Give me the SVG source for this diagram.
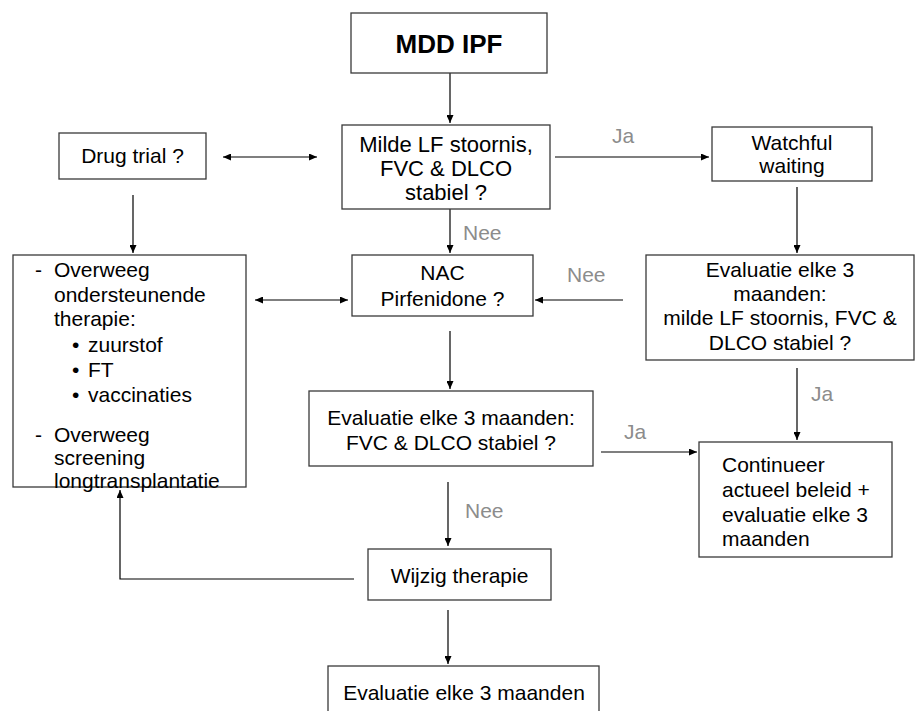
<svg xmlns="http://www.w3.org/2000/svg" width="919" height="711" viewBox="0 0 919 711">
<defs>
<marker id="ah" markerUnits="userSpaceOnUse" markerWidth="9" markerHeight="7" refX="8" refY="3.5" orient="auto-start-reverse">
<path d="M0,0 L8,3.5 L0,7 z" fill="#000"/>
</marker>
<style>
.box{fill:#fff;stroke:#3a3a3a;stroke-width:1.3}
.t{font-family:"Liberation Sans",Arial,sans-serif;font-size:21px;fill:#000}
.c{text-anchor:middle}
.lbl{font-family:"Liberation Sans",Arial,sans-serif;font-size:21px;fill:#8c8c8c}
.ln{fill:none;stroke:#000;stroke-width:1.2}
</style>
</defs>
<rect width="919" height="711" fill="#fff"/>

<g id="connectors">
<line class="ln" x1="450" y1="73" x2="450" y2="123" marker-end="url(#ah)"/>
<line class="ln" x1="223" y1="157" x2="317" y2="157" marker-start="url(#ah)" marker-end="url(#ah)"/>
<line class="ln" x1="555" y1="157" x2="709" y2="157" stroke="#555" marker-end="url(#ah)"/>
<line class="ln" x1="450" y1="209" x2="450" y2="253" marker-end="url(#ah)"/>
<line class="ln" x1="133" y1="195" x2="133" y2="253" marker-end="url(#ah)"/>
<line class="ln" x1="255" y1="300" x2="348" y2="300" marker-start="url(#ah)" marker-end="url(#ah)"/>
<line class="ln" x1="797" y1="187" x2="797" y2="253" marker-end="url(#ah)"/>
<line class="ln" x1="623" y1="300" x2="535" y2="300" marker-end="url(#ah)"/>
<line class="ln" x1="450" y1="331" x2="450" y2="389" marker-end="url(#ah)"/>
<line class="ln" x1="601" y1="452" x2="697" y2="452" marker-end="url(#ah)"/>
<line class="ln" x1="797" y1="368" x2="797" y2="440" marker-end="url(#ah)"/>
<line class="ln" x1="448" y1="482" x2="448" y2="546" marker-end="url(#ah)"/>
<polyline class="ln" points="354,579 120,579 120,490" marker-end="url(#ah)"/>
<line class="ln" x1="448" y1="610" x2="448" y2="664" marker-end="url(#ah)"/>
<text class="lbl" x="612" y="143">Ja</text>
<text class="lbl" x="463" y="240">Nee</text>
<text class="lbl" x="567" y="282">Nee</text>
<text class="lbl" x="811" y="401">Ja</text>
<text class="lbl" x="624" y="439">Ja</text>
<text class="lbl" x="465" y="518">Nee</text>
</g>

<g id="mdd">
<rect class="box" x="351" y="13" width="196" height="60"/>
<text class="t c" x="449" y="53" style="font-weight:bold;font-size:26px">MDD IPF</text>
</g>

<g id="milde">
<rect class="box" x="342" y="125" width="208" height="84"/>
<text class="t c" x="446" y="152" style="font-size:22px">Milde LF stoornis,</text>
<text class="t c" x="446" y="176" style="font-size:22px">FVC &amp; DLCO</text>
<text class="t c" x="446" y="200" style="font-size:22px">stabiel ?</text>
</g>

<g id="drugtrial">
<rect class="box" x="59" y="133" width="147" height="46"/>
<text class="t c" x="132.5" y="163">Drug trial ?</text>
</g>

<g id="watchful">
<rect class="box" x="712" y="127" width="160" height="54"/>
<text class="t c" x="792" y="150">Watchful</text>
<text class="t c" x="792" y="173">waiting</text>
</g>

<g id="ondersteunend">
<rect class="box" x="13" y="255" width="233" height="232"/>
<text class="t" x="35" y="277">-</text>
<text class="t" x="54" y="277">Overweeg</text>
<text class="t" x="54" y="302">ondersteunende</text>
<text class="t" x="54" y="326">therapie:</text>
<text class="t" x="72" y="352">•</text>
<text class="t" x="88" y="352">zuurstof</text>
<text class="t" x="72" y="377">•</text>
<text class="t" x="88" y="377">FT</text>
<text class="t" x="72" y="402">•</text>
<text class="t" x="88" y="402">vaccinaties</text>
<text class="t" x="35" y="442">-</text>
<text class="t" x="54" y="442">Overweeg</text>
<text class="t" x="54" y="465">screening</text>
<text class="t" x="54" y="488">longtransplantatie</text>
</g>

<g id="nac">
<rect class="box" x="352" y="255" width="181" height="61"/>
<text class="t c" x="442.5" y="280">NAC</text>
<text class="t c" x="442.5" y="306">Pirfenidone ?</text>
</g>

<g id="evalright">
<rect class="box" x="646" y="255" width="268" height="105"/>
<text class="t c" x="780" y="277">Evaluatie elke 3</text>
<text class="t c" x="780" y="301">maanden:</text>
<text class="t c" x="780" y="325">milde LF stoornis, FVC &amp;</text>
<text class="t c" x="780" y="350">DLCO stabiel ?</text>
</g>

<g id="evalmid">
<rect class="box" x="309" y="391" width="284" height="75"/>
<text class="t c" x="451" y="425">Evaluatie elke 3 maanden:</text>
<text class="t c" x="451" y="450">FVC &amp; DLCO stabiel ?</text>
</g>

<g id="continueer">
<rect class="box" x="699" y="442" width="193" height="115"/>
<text class="t" x="722" y="472">Continueer</text>
<text class="t" x="722" y="497">actueel beleid +</text>
<text class="t" x="722" y="522">evaluatie elke 3</text>
<text class="t" x="722" y="546">maanden</text>
</g>

<g id="wijzig">
<rect class="box" x="368" y="549" width="183" height="51"/>
<text class="t c" x="459.5" y="583">Wijzig therapie</text>
</g>

<g id="evalbottom">
<rect class="box" x="328" y="666" width="271" height="60"/>
<text class="t c" x="464" y="700">Evaluatie elke 3 maanden</text>
</g>
</svg>
